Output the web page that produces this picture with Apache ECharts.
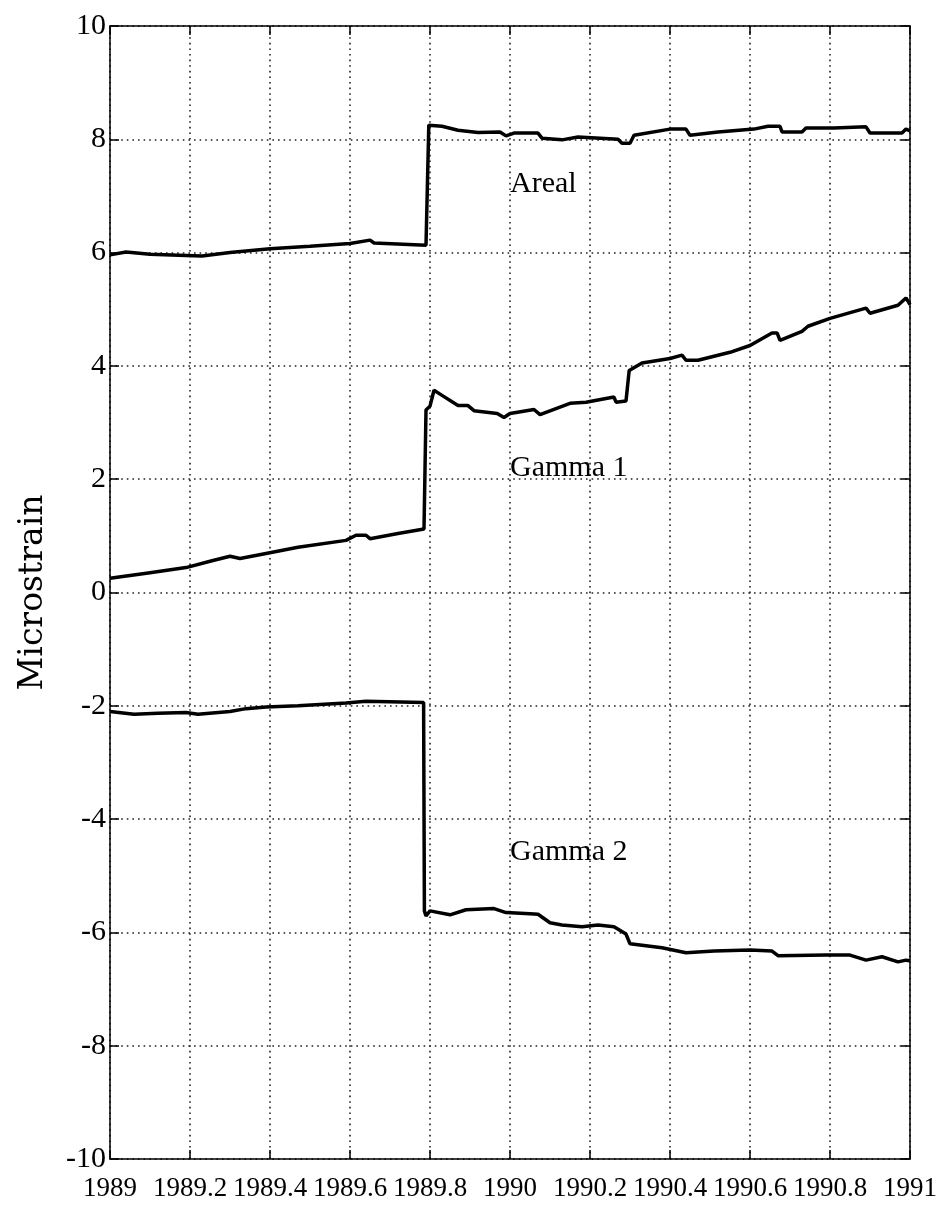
<!DOCTYPE html>
<html>
<head>
<meta charset="utf-8">
<script src="https://cdn.jsdelivr.net/npm/echarts@6/dist/echarts.min.js"></script>
<style>
html,body{margin:0;padding:0;background:#fff;}
#chart{width:940px;height:1216px;}
</style>
</head>
<body>
<div id="chart"></div>
<script>
// ---- data ----
const xTicks = [1989, 1989.2, 1989.4, 1989.6, 1989.8, 1990, 1990.2, 1990.4, 1990.6, 1990.8, 1991];
const yTicks = [-10, -8, -6, -4, -2, 0, 2, 4, 6, 8, 10];

const areal = [[1989.00,5.96],[1989.04,6.01],[1989.10,5.97],[1989.19,5.95],[1989.23,5.94],[1989.30,6.00],[1989.40,6.07],[1989.50,6.11],[1989.60,6.16],[1989.65,6.22],[1989.66,6.17],[1989.79,6.13],[1989.795,6.15],[1989.797,8.25],[1989.83,8.23],[1989.87,8.16],[1989.92,8.12],[1989.975,8.13],[1989.99,8.06],[1990.01,8.11],[1990.07,8.11],[1990.08,8.02],[1990.13,7.99],[1990.17,8.04],[1990.27,8.00],[1990.28,7.93],[1990.30,7.93],[1990.31,8.07],[1990.40,8.18],[1990.44,8.18],[1990.45,8.07],[1990.52,8.13],[1990.61,8.18],[1990.645,8.23],[1990.675,8.23],[1990.68,8.13],[1990.73,8.13],[1990.74,8.20],[1990.81,8.20],[1990.89,8.22],[1990.90,8.11],[1990.98,8.11],[1990.99,8.18],[1991.0,8.15]];

const gamma1 = [[1989.00,0.25],[1989.10,0.35],[1989.19,0.44],[1989.255,0.56],[1989.30,0.64],[1989.325,0.60],[1989.39,0.69],[1989.47,0.80],[1989.59,0.92],[1989.615,1.01],[1989.64,1.01],[1989.65,0.95],[1989.72,1.04],[1989.785,1.12],[1989.79,3.22],[1989.80,3.29],[1989.805,3.29],[1989.81,3.57],[1989.83,3.48],[1989.87,3.30],[1989.895,3.30],[1989.91,3.21],[1989.968,3.16],[1989.985,3.09],[1990.0,3.16],[1990.06,3.23],[1990.075,3.14],[1990.15,3.34],[1990.19,3.36],[1990.26,3.45],[1990.265,3.36],[1990.29,3.38],[1990.298,3.92],[1990.33,4.05],[1990.40,4.13],[1990.43,4.19],[1990.44,4.10],[1990.47,4.10],[1990.55,4.24],[1990.60,4.36],[1990.655,4.58],[1990.668,4.58],[1990.675,4.45],[1990.73,4.61],[1990.745,4.70],[1990.80,4.84],[1990.89,5.02],[1990.90,4.93],[1990.97,5.07],[1990.99,5.20],[1991.0,5.08]];

const gamma2 = [[1989.00,-2.10],[1989.06,-2.15],[1989.12,-2.13],[1989.19,-2.12],[1989.22,-2.15],[1989.30,-2.10],[1989.34,-2.05],[1989.39,-2.02],[1989.47,-2.00],[1989.59,-1.95],[1989.64,-1.92],[1989.784,-1.94],[1989.786,-5.62],[1989.79,-5.71],[1989.80,-5.62],[1989.85,-5.69],[1989.89,-5.60],[1989.96,-5.58],[1989.99,-5.65],[1990.05,-5.67],[1990.07,-5.68],[1990.10,-5.83],[1990.13,-5.87],[1990.18,-5.90],[1990.22,-5.87],[1990.26,-5.90],[1990.29,-6.03],[1990.30,-6.20],[1990.38,-6.27],[1990.44,-6.36],[1990.51,-6.33],[1990.60,-6.31],[1990.655,-6.33],[1990.67,-6.41],[1990.79,-6.40],[1990.85,-6.40],[1990.89,-6.49],[1990.93,-6.43],[1990.97,-6.52],[1990.99,-6.49],[1991.0,-6.50]];

const labelNames = ['Areal', 'Gamma 1', 'Gamma 2'];
const labelX = [1990.0, 1990.0, 1990.0];
const labelY = [7.2, 2.2, -4.58];

const yAxisTitle = 'Microstrain';

// ---- chart ----
const serifFont = '"Liberation Serif", "DejaVu Serif", serif';
const tickFmt = v => String(+Number(v).toFixed(1));

const lineSeries = (name, data) => ({
  name, type: 'line', data, showSymbol: false, symbol: 'none',
  lineStyle: { color: '#000', width: 3.5 }, z: 5, animation: false
});

const axisLineStyle = { onZero: false, lineStyle: { color: '#000', width: 1.5 } };
const tickStyle = { inside: true, length: 9, lineStyle: { color: '#000', width: 1.5 } };
const gridLine = { show: true, lineStyle: { color: '#222', width: 1.6, type: [1.6, 4] } };

const chart = echarts.init(document.getElementById('chart'), null, { renderer: 'canvas' });
chart.setOption({
  backgroundColor: '#fff',
  animation: false,
  grid: { left: 110, right: 22, top: 26, bottom: 57, containLabel: false },
  xAxis: [
    { type: 'value', min: xTicks[0], max: xTicks[xTicks.length - 1], interval: 0.2, position: 'bottom',
      axisLine: axisLineStyle, axisTick: tickStyle, splitLine: gridLine,
      axisLabel: { color: '#000', fontFamily: serifFont, fontSize: 27, margin: 16, formatter: tickFmt } },
    { type: 'value', min: xTicks[0], max: xTicks[xTicks.length - 1], interval: 0.2, position: 'top',
      axisLine: axisLineStyle, axisTick: tickStyle, splitLine: { show: false }, axisLabel: { show: false } }
  ],
  yAxis: [
    { type: 'value', min: yTicks[0], max: yTicks[yTicks.length - 1], interval: 2, position: 'left',
      axisLine: axisLineStyle, axisTick: tickStyle, splitLine: gridLine,
      axisLabel: { color: '#000', fontFamily: serifFont, fontSize: 30, margin: 4, formatter: tickFmt },
      name: yAxisTitle, nameLocation: 'middle', nameGap: 60, nameRotate: 90,
      nameTextStyle: { color: '#000', fontFamily: '"DejaVu Serif", serif', fontSize: 33 } },
    { type: 'value', min: yTicks[0], max: yTicks[yTicks.length - 1], interval: 2, position: 'right',
      axisLine: axisLineStyle, axisTick: tickStyle, splitLine: { show: false }, axisLabel: { show: false } }
  ],
  series: [
    lineSeries('Areal', areal),
    lineSeries('Gamma 1', gamma1),
    lineSeries('Gamma 2', gamma2),
    { type: 'scatter', name: 'labels', symbolSize: 0, z: 6, silent: true,
      data: labelNames.map((n, i) => ({ value: [labelX[i], labelY[i]], name: n })),
      label: { show: true, position: 'right', distance: 0, formatter: p => p.name,
               color: '#000', textBorderWidth: 0, opacity: 1,
               fontFamily: serifFont, fontSize: 30 } }
  ]
});
</script>
</body>
</html>
